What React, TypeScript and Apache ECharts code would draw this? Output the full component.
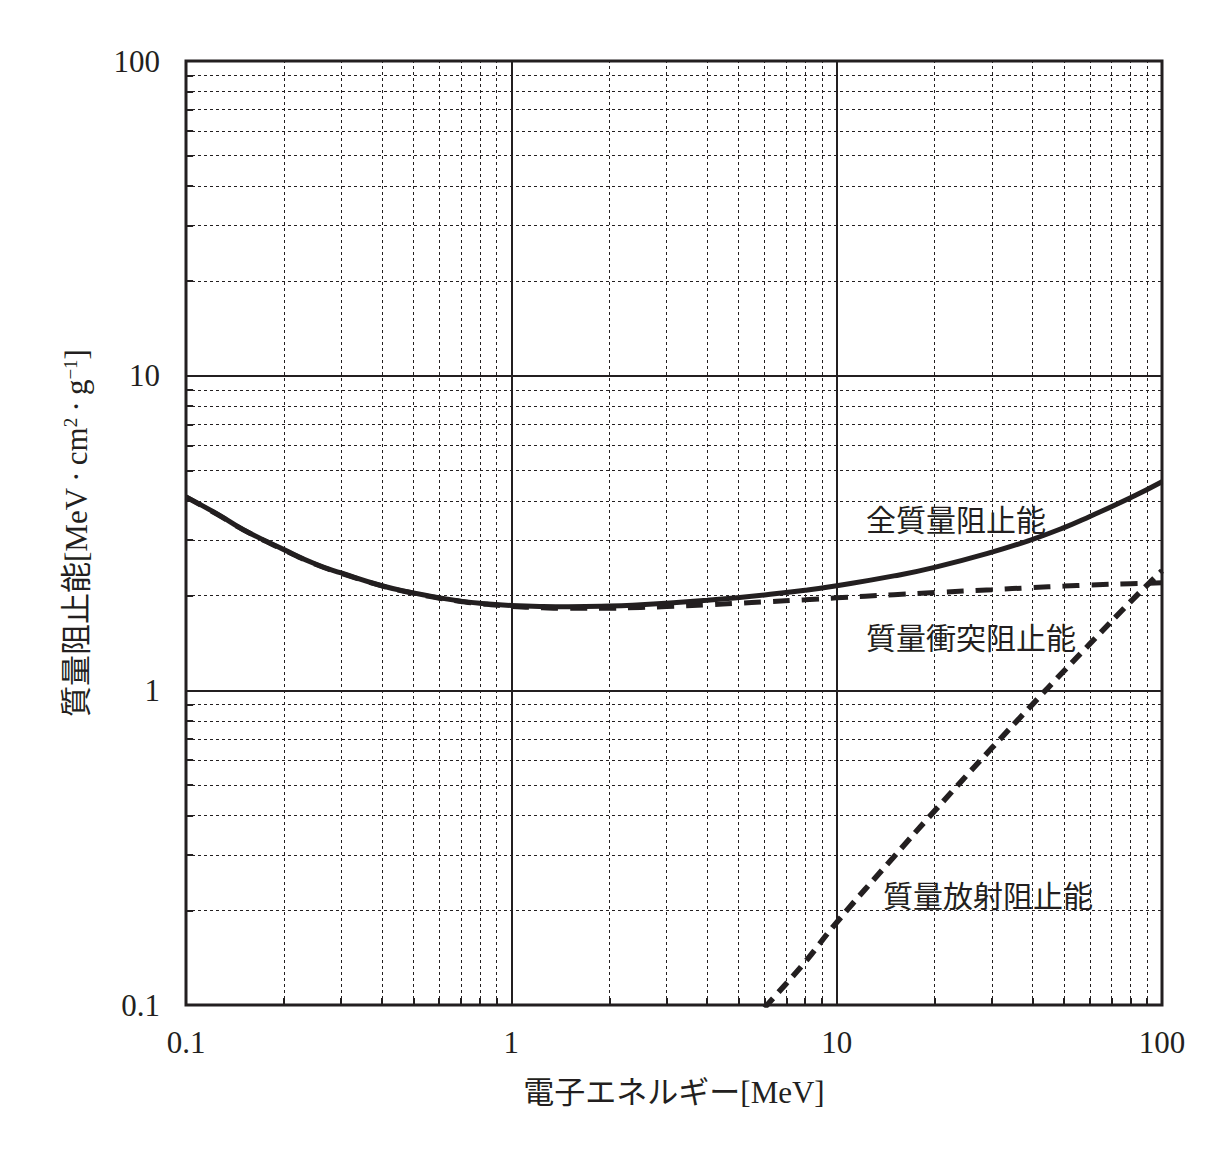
import React, { useRef, useEffect } from 'react';
import * as echarts from 'echarts';

// electron energy [MeV] and mass stopping powers [MeV·cm²·g⁻¹]
const energies = [0.1, 0.125, 0.15, 0.2, 0.25, 0.3, 0.4, 0.5, 0.6, 0.7, 0.8, 1, 1.25, 1.5, 2, 2.5, 3, 4, 5, 6, 8, 10, 15, 20, 30, 40, 50, 60, 80, 100];
const totalPower = [4.12, 3.63, 3.24, 2.8, 2.52, 2.36, 2.15, 2.04, 1.97, 1.92, 1.89, 1.86, 1.846, 1.843, 1.852, 1.87, 1.891, 1.933, 1.972, 2.01, 2.08, 2.15, 2.31, 2.46, 2.75, 3.02, 3.29, 3.57, 4.09, 4.6];
const collisionPower = [4.115, 3.62, 3.238, 2.793, 2.515, 2.355, 2.148, 2.034, 1.963, 1.917, 1.886, 1.849, 1.829, 1.822, 1.824, 1.834, 1.846, 1.87, 1.892, 1.911, 1.941, 1.968, 2.014, 2.046, 2.089, 2.121, 2.144, 2.162, 2.182, 2.197];
const radEnergies = [6, 7, 8, 10, 15, 20, 30, 40, 50, 60, 80, 100];
const radiativePower = [0.098, 0.117, 0.137, 0.183, 0.296, 0.414, 0.656, 0.903, 1.153, 1.404, 1.912, 2.399];

const minorX = [0.2, 0.3, 0.4, 0.5, 0.6, 0.7, 0.8, 0.9, 2, 3, 4, 5, 6, 7, 8, 9, 20, 30, 40, 50, 60, 70, 80, 90];
const minorY = [0.2, 0.3, 0.4, 0.5, 0.6, 0.7, 0.8, 0.9, 2, 3, 4, 5, 6, 7, 8, 9, 20, 30, 40, 50, 60, 70, 80, 90];

const INK = '#231f20';
const SERIF = "'Liberation Serif', 'Noto Sans CJK JP', serif";
const THIN = '\u2009';
// inward minor tick length, as a factor on the log axes (about 7px of a 315px decade)
const TICK = Math.pow(10, 7 / 320);

const pairs = (xs: number[], ys: number[]) => xs.map((x, i) => [x, ys[i]]);

export default function App() {
  const ref = useRef<HTMLDivElement>(null);

  useEffect(() => {
    document.body.style.margin = '0';
    if (!ref.current) return;
    const chart = echarts.init(ref.current, undefined, { renderer: 'svg' });

    const labelStyle = { fontFamily: SERIF, fontSize: 30, fill: INK };

    chart.setOption({
      animation: false,
      backgroundColor: '#fff',
      grid: {
        left: 186, top: 61, width: 976, height: 944,
        show: true, borderColor: INK, borderWidth: 3, backgroundColor: 'transparent',
      },
      xAxis: {
        type: 'log', logBase: 10, min: 0.1, max: 100,
        name: '電子エネルギー[MeV]',
        nameLocation: 'middle', nameGap: 72,
        nameTextStyle: { fontFamily: SERIF, fontSize: 31, color: INK },
        axisLine: { show: false },
        axisTick: { show: false },
        axisLabel: { fontFamily: SERIF, fontSize: 31, color: INK, margin: 22 },
        splitLine: { show: true, lineStyle: { color: INK, width: 2 } },
      },
      yAxis: {
        type: 'log', logBase: 10, min: 0.1, max: 100,
        name: `質量阻止能[MeV${THIN}·${THIN}cm{sup|2}${THIN}·${THIN}g{sup|−1}]`,
        nameLocation: 'middle', nameGap: 94, nameRotate: 90,
        nameTextStyle: {
          fontFamily: SERIF, fontSize: 31, color: INK,
          rich: { sup: { fontFamily: SERIF, fontSize: 19, color: INK, verticalAlign: 'top' } },
        },
        axisLine: { show: false },
        axisTick: { show: false },
        axisLabel: { fontFamily: SERIF, fontSize: 31, color: INK, margin: 26 },
        splitLine: { show: true, lineStyle: { color: INK, width: 2 } },
      },
      series: [
        {
          name: 'grid', type: 'line', data: [], silent: true,
          markLine: {
            silent: true, symbol: 'none', label: { show: false },
            lineStyle: { color: INK, width: 1, type: [3, 3] },
            data: [
              ...minorX.map(v => ({ xAxis: v })),
              ...minorY.map(v => ({ yAxis: v })),
            ],
          },
        },
        {
          name: 'ticks', type: 'line', data: [], silent: true,
          markLine: {
            silent: true, symbol: 'none', label: { show: false },
            lineStyle: { color: INK, width: 2, type: 'solid' },
            data: [
              ...minorX.map(v => [{ coord: [v, 0.1] }, { coord: [v, 0.1 * TICK] }]),
              ...minorY.map(v => [{ coord: [0.1, v] }, { coord: [0.1 * TICK, v] }]),
            ],
          },
        },
        {
          name: '質量衝突阻止能', type: 'line', data: pairs(energies, collisionPower),
          showSymbol: false, smooth: true, clip: true,
          lineStyle: { color: INK, width: 5, type: [17, 12] },
        },
        {
          name: '全質量阻止能', type: 'line', data: pairs(energies, totalPower),
          showSymbol: false, smooth: true, clip: true,
          lineStyle: { color: INK, width: 5 },
        },
        {
          name: '質量放射阻止能', type: 'line', data: pairs(radEnergies, radiativePower),
          showSymbol: false, smooth: true, clip: true,
          lineStyle: { color: INK, width: 5.5, type: [13, 8] },
        },
      ],
      graphic: [
        { type: 'text', left: 866, top: 505, style: { ...labelStyle, text: '全質量阻止能' } },
        { type: 'text', left: 866, top: 623, style: { ...labelStyle, text: '質量衝突阻止能' } },
        { type: 'text', left: 883, top: 881, style: { ...labelStyle, text: '質量放射阻止能' } },
      ],
    });

    return () => chart.dispose();
  }, []);

  return <div ref={ref} style={{ width: 1212, height: 1164, position: 'absolute', left: 0, top: 0 }} />;
}
